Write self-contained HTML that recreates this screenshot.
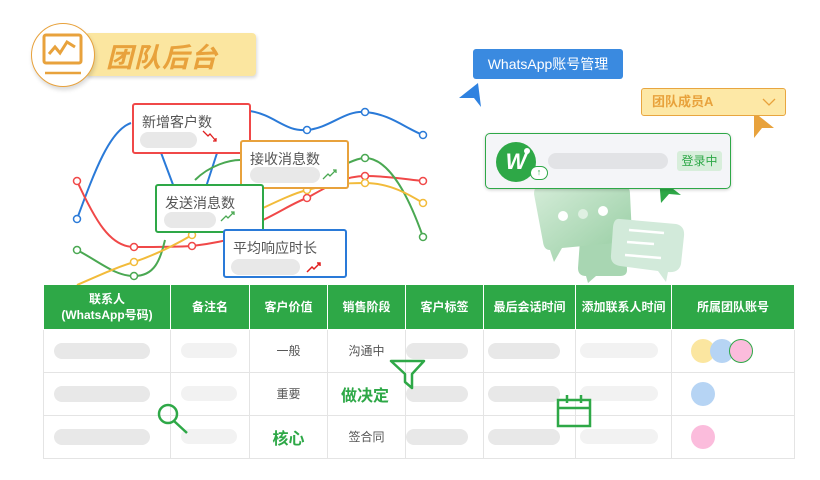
<!DOCTYPE html>
<html><head><meta charset="utf-8"><style>
*{margin:0;padding:0;box-sizing:border-box}
body{width:820px;height:480px;background:#fff;position:relative;overflow:hidden;font-family:"Liberation Sans","Noto Sans CJK SC",sans-serif}
.a{position:absolute}
.box{position:absolute;background:#fff;border:2px solid;border-radius:3px}
.box .t{position:absolute;left:8px;top:7px;font-size:14px;color:#555}
.pill{position:absolute;background:#e8e8e8;border-radius:10px}
table{position:absolute;left:43px;top:285px;border-collapse:collapse;width:752px}
td,th{border:1px solid #e4e4e4;text-align:center;font-size:12px;color:#555}
th{background:#2ea847;color:#fff;font-weight:bold;height:44px;border-color:#fff;border-top:none}
td{height:43px;position:relative}
td.p{text-align:left;padding-left:10px}
.g{display:inline-block;height:15px;border-radius:8px;background:#e8e8e8;vertical-align:middle}
.l{background:#f2f2f2}
.dot{display:inline-block;width:24px;height:24px;border-radius:50%;vertical-align:middle}
</style></head><body>
<svg class="a" style="left:0;top:0" width="820" height="480">
<g fill="none" stroke-width="2">
<path d="M77,219 C95,170 110,130 131,123" stroke="#2a7ad8"/>
<path d="M160,150 L175,190 M205,190 L218,150" stroke="#2a7ad8"/>
<path d="M250,111 C275,115 285,132 307,130 C330,128 345,110 365,112 C390,114 405,128 423,135" stroke="#2a7ad8"/>
<path d="M77,181 C95,220 110,247 134,247 C160,247 175,247 192,246 C210,244 230,240 240,236 M263,220 C280,212 295,202 307,198 C330,185 345,176 365,176 C390,176 410,180 423,181" stroke="#f04848"/>
<path d="M77,250 C100,262 115,276 134,276 C155,276 160,260 165,240 M195,180 C210,165 230,160 240,160 M348,163 C355,160 360,158 365,158 C390,158 410,200 423,237" stroke="#4aa852"/>
<path d="M77,285 C100,275 115,268 134,262 C155,255 175,245 192,235 M263,208 C280,200 295,193 307,190 C330,184 345,183 365,183 C390,183 410,195 423,203" stroke="#f2bb3a"/>
</g>
<g fill="#fff" stroke-width="1.5">
<circle cx="77" cy="219" r="3.5" stroke="#2a7ad8"/><circle cx="307" cy="130" r="3.5" stroke="#2a7ad8"/><circle cx="365" cy="112" r="3.5" stroke="#2a7ad8"/><circle cx="423" cy="135" r="3.5" stroke="#2a7ad8"/>
<circle cx="77" cy="181" r="3.5" stroke="#f04848"/><circle cx="134" cy="247" r="3.5" stroke="#f04848"/><circle cx="192" cy="246" r="3.5" stroke="#f04848"/><circle cx="307" cy="198" r="3.5" stroke="#f04848"/><circle cx="365" cy="176" r="3.5" stroke="#f04848"/><circle cx="423" cy="181" r="3.5" stroke="#f04848"/>
<circle cx="77" cy="250" r="3.5" stroke="#4aa852"/><circle cx="134" cy="276" r="3.5" stroke="#4aa852"/><circle cx="365" cy="158" r="3.5" stroke="#4aa852"/><circle cx="423" cy="237" r="3.5" stroke="#4aa852"/>
<circle cx="134" cy="262" r="3.5" stroke="#f2bb3a"/><circle cx="192" cy="235" r="3.5" stroke="#f2bb3a"/><circle cx="307" cy="190" r="3.5" stroke="#f2bb3a"/><circle cx="365" cy="183" r="3.5" stroke="#f2bb3a"/><circle cx="423" cy="203" r="3.5" stroke="#f2bb3a"/>
</g>
<defs><linearGradient id="gb" x1="0" y1="0" x2="1" y2="1"><stop offset="0" stop-color="#d4ecd8"/><stop offset="1" stop-color="#94cca0"/></linearGradient></defs>
<path d="M580,240 L626,238 L627,270 Q627,276 620,276 L596,276 L588,283 L586,276 Q578,276 578,268 Z" fill="#a8d6b2"/>
<path d="M540,186 L624,186 Q630,186 630,194 L632,236 Q632,242 626,242 L562,248 L554,262 L550,250 Q544,250 543,242 L534,194 Q534,186 540,186 Z" fill="url(#gb)"/>
<circle cx="563" cy="216" r="5" fill="#fff"/><circle cx="583" cy="214" r="5" fill="#dff0e2"/><circle cx="603" cy="211" r="5" fill="#fff"/>
<path d="M620,219 L676,224 Q685,226 684,236 L681,264 Q679,273 668,272 L666,282 L658,271 L620,266 Q610,264 611,255 L613,227 Q614,218 620,219 Z" fill="#d2eada"/>
<path d="M629,230 L664,233 M627,242 L654,244 M625,255 L661,258" stroke="#fff" stroke-width="2.5"/>
<path d="M459,98 L478,83 L481,107 L474,98 Z" fill="#2f82e0"/>
<path d="M754,112 L774,128 L762,128 L754,138 Z" fill="#e8a23c"/>
<path d="M659,178 L681,195 L669,194 L661,203 Z" fill="#2ea847"/>
<path d="M203,134 L208,138 L210,135 L216,142 M213,142 L216,142 L216,139" stroke="#e02020" fill="none" stroke-width="1.3"/>
</svg>

<div class="a" style="left:85px;top:33px;width:171px;height:43px;background:#fbe6a0;border-radius:4px;box-shadow:1px 2px 3px rgba(0,0,0,.15)"></div>
<div class="a" style="left:106px;top:36px;font-size:27px;font-weight:bold;font-style:italic;color:#e8a23c;letter-spacing:1px">团队后台</div>
<div class="a" style="left:31px;top:23px;width:64px;height:64px;border-radius:50%;background:#fff;border:1.5px solid #e8a23c;box-shadow:1px 3px 4px rgba(0,0,0,.15)"></div>
<svg class="a" style="left:41px;top:33px" width="44" height="44"><rect x="3" y="2" width="37" height="28" rx="2" fill="none" stroke="#e8a23c" stroke-width="3"/><path d="M8,21 L14,14 L19,20 L26,9 L34,14" fill="none" stroke="#e8a23c" stroke-width="3"/><path d="M4,40 L40,40" stroke="#e8a23c" stroke-width="2.5"/></svg>

<div class="box" style="left:132px;top:103px;width:119px;height:51px;border-color:#f04848"><div class="t">新增客户数</div><div class="pill" style="left:6px;top:27px;width:57px;height:16px"></div></div>
<svg class="a" style="left:200px;top:128px" width="22" height="18"><path d="M3,3 L8,8 L10,6 L16,13 M13,13 L16,13 L16,10" stroke="#e02020" fill="none" stroke-width="1.3"/></svg>
<div class="box" style="left:240px;top:140px;width:109px;height:49px;border-color:#e8a23c"><div class="t">接收消息数</div><div class="pill" style="left:8px;top:25px;width:70px;height:16px"></div></div>
<svg class="a" style="left:320px;top:166px" width="22" height="16"><path d="M3,13 L8,8 L10,10 L16,4 M13,4 L16,4 L16,7" stroke="#4aa852" fill="none" stroke-width="1.3"/></svg>
<div class="box" style="left:155px;top:184px;width:109px;height:49px;border-color:#2ea847"><div class="t">发送消息数</div><div class="pill" style="left:7px;top:26px;width:52px;height:16px"></div></div>
<svg class="a" style="left:218px;top:208px" width="22" height="16"><path d="M3,13 L8,8 L10,10 L16,4 M13,4 L16,4 L16,7" stroke="#4aa852" fill="none" stroke-width="1.3"/></svg>
<div class="box" style="left:223px;top:229px;width:124px;height:49px;border-color:#2a7ad8"><div class="t">平均响应时长</div><div class="pill" style="left:6px;top:28px;width:69px;height:16px"></div></div>
<svg class="a" style="left:304px;top:259px" width="22" height="16"><path d="M3,13 L8,8 L10,10 L16,4 M13,4 L16,4 L16,7" stroke="#e02020" fill="none" stroke-width="1.5"/></svg>

<div class="a" style="left:473px;top:49px;width:150px;height:30px;background:#3a8ae0;border-radius:3px;color:#fff;font-size:14px;line-height:30px;text-align:center">WhatsApp账号管理</div>
<div class="a" style="left:641px;top:88px;width:145px;height:28px;background:#fde8a6;border:1px solid #e8a640;border-radius:3px;color:#e8a23c;font-size:13px;font-weight:bold;line-height:26px;padding-left:10px">团队成员A
<svg class="a" style="right:8px;top:8px" width="16" height="10"><path d="M2,2 L8,8 L14,2" fill="none" stroke="#e8a23c" stroke-width="1.3"/></svg></div>

<div class="a" style="left:485px;top:133px;width:246px;height:56px;background:#f4f5f8;border:1.5px solid #2ea847;border-radius:5px;box-shadow:0 1px 3px rgba(0,0,0,.2)">
<div class="a" style="left:10px;top:8px;width:40px;height:40px;border-radius:50%;background:#2ea847;color:#fff;font-weight:bold;font-style:italic;font-size:22px;line-height:40px;text-align:center">W</div>
<div class="a" style="left:38px;top:14px;width:6px;height:6px;border-radius:50%;background:#fff"></div>
<div class="a" style="left:44px;top:32px;width:18px;height:14px;border-radius:7px;background:#fff;border:1.5px solid #2ea847;font-size:9px;color:#2ea847;line-height:10px;text-align:center">↑</div>
<div class="a" style="left:62px;top:19px;width:120px;height:16px;background:#e2e3e6;border-radius:8px"></div>
<div class="a" style="left:191px;top:17px;width:45px;height:20px;background:#d8eedb;border-radius:3px;color:#2ea847;font-size:12px;line-height:20px;text-align:center">登录中</div>
</div>

<table>
<tr><th style="width:127px;line-height:16px">联系人<br>(WhatsApp号码)</th><th style="width:79px">备注名</th><th style="width:78px">客户价值</th><th style="width:78px">销售阶段</th><th style="width:78px">客户标签</th><th style="width:92px">最后会话时间</th><th style="width:96px">添加联系人时间</th><th>所属团队账号</th></tr>
<tr><td class="p"><span class="g" style="width:96px;height:16px"></span></td><td class="p"><span class="g l" style="width:56px"></span></td><td>一般</td><td>沟通中</td><td class="p" style="padding-left:0"><span class="g" style="width:62px;height:16px"></span></td><td class="p" style="padding-left:4px"><span class="g" style="width:72px;height:16px"></span></td><td class="p" style="padding-left:4px"><span class="g l" style="width:78px"></span></td><td style="text-align:left;padding-left:19px"><span class="dot" style="background:#fbe6a0"></span><span class="dot" style="background:#b6d4f4;margin-left:-5px"></span><span class="dot" style="background:#fbbcdc;margin-left:-5px;border:1px solid #2ea847"></span></td></tr>
<tr><td class="p"><span class="g" style="width:96px;height:16px"></span></td><td class="p"><span class="g l" style="width:56px"></span></td><td>重要</td><td style="color:#2ea847;font-size:16px;font-weight:bold;text-align:left;padding-left:13px">做决定</td><td class="p" style="padding-left:0"><span class="g" style="width:62px;height:16px"></span></td><td class="p" style="padding-left:4px"><span class="g" style="width:72px;height:16px"></span></td><td class="p" style="padding-left:4px"><span class="g l" style="width:78px"></span></td><td style="text-align:left;padding-left:19px"><span class="dot" style="background:#b6d4f4"></span></td></tr>
<tr><td class="p"><span class="g" style="width:96px;height:16px"></span></td><td class="p"><span class="g l" style="width:56px"></span></td><td style="color:#2ea847;font-size:16px;font-weight:bold">核心</td><td>签合同</td><td class="p" style="padding-left:0"><span class="g" style="width:62px;height:16px"></span></td><td class="p" style="padding-left:4px"><span class="g" style="width:72px;height:16px"></span></td><td class="p" style="padding-left:4px"><span class="g l" style="width:78px"></span></td><td style="text-align:left;padding-left:19px"><span class="dot" style="background:#fbbcdc"></span></td></tr>
</table>
<svg class="a" style="left:0;top:0;pointer-events:none" width="820" height="480">
<circle cx="168" cy="414" r="9" fill="none" stroke="#2ea847" stroke-width="2.5"/><path d="M174,421 L187,433" stroke="#2ea847" stroke-width="2.5"/>
<path d="M391,361 L424,361 L412,374 L412,388 L405,382 L405,374 Z" fill="none" stroke="#2ea847" stroke-width="2.5" stroke-linejoin="round"/>
<rect x="558" y="400" width="32" height="26" fill="none" stroke="#2ea847" stroke-width="2.5"/><path d="M558,408 L590,408 M567,395 L567,403 M581,395 L581,403" stroke="#2ea847" stroke-width="2.5"/>
</svg>
</body></html>
